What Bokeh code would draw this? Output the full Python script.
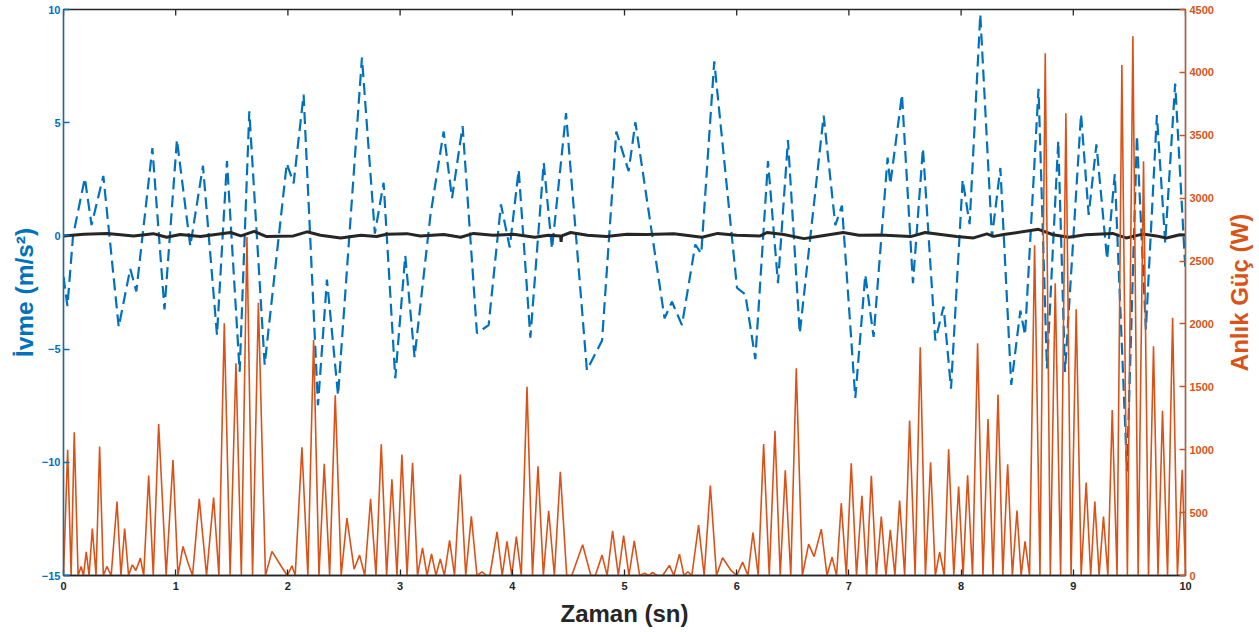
from bokeh.plotting import figure
from bokeh.layouts import row
from bokeh.models import Range1d, LinearAxis, FixedTicker
from bokeh.embed import file_html
from bokeh.resources import INLINE

# ---- data ----
x_ticks = [0, 1, 2, 3, 4, 5, 6, 7, 8, 9, 10]
acc_ticks = [-15, -10, -5, 0, 5, 10]
pow_ticks = [0, 500, 1000, 1500, 2000, 2500, 3000, 3500, 4000, 4500]

# acceleration (dashed blue), m/s^2
t_acc = [0.000, 0.035, 0.085, 0.190, 0.250, 0.355, 0.492, 0.595, 0.649, 0.792,
         0.900, 1.011, 1.130, 1.243, 1.368, 1.457, 1.570, 1.656, 1.793, 1.990,
         2.051, 2.140, 2.268, 2.348, 2.447, 2.660, 2.775, 2.853, 2.957, 3.046,
         3.129, 3.270, 3.388, 3.463, 3.557, 3.685, 3.789, 3.899, 3.977, 4.057,
         4.161, 4.280, 4.354, 4.479, 4.665, 4.800, 4.927, 5.037, 5.097, 5.357,
         5.423, 5.512, 5.631, 5.684, 5.800, 6.003, 6.077, 6.166, 6.279, 6.368,
         6.457, 6.562, 6.775, 6.879, 6.938, 7.057, 7.146, 7.220, 7.345, 7.369,
         7.473, 7.571, 7.660, 7.770, 7.844, 7.910, 8.014, 8.076, 8.171, 8.275,
         8.350, 8.447, 8.528, 8.570, 8.690, 8.765, 8.866, 8.926, 9.069, 9.137,
         9.206, 9.301, 9.370, 9.479, 9.567, 9.647, 9.745, 9.819, 9.908, 10.000]
acc = [-1.8, -3.1, 0.0, 2.55, 0.48, 2.65, -4.02, -1.45, -2.45, 3.88,
       -3.25, 4.25, -0.45, 3.1, -4.38, 3.3, -6.0, 5.5, -5.69, 3.2,
       2.32, 6.24, -7.48, -1.93, -7.04, 7.88, 0.1, 2.35, -6.29, -0.87,
       -5.36, 0.9, 4.61, 1.67, 4.85, -4.3, -3.94, 1.39, -0.51, 2.92,
       -4.49, 3.22, -0.57, 5.42, -5.93, -4.62, 4.61, 2.86, 5.02, -3.64,
       -2.91, -3.94, -0.38, -0.78, 7.71, -2.3, -2.58, -5.44, 3.3, -2.09,
       4.23, -4.3, 5.31, 0.47, 1.34, -7.16, -1.72, -4.46, 3.46, 2.29,
       6.24, -2.09, 3.87, -4.62, -3.12, -6.75, 2.48, 0.52, 9.8, -0.06,
       3.0, -6.58, -3.3, -4.38, 6.5, -5.85, 4.2, -6.01, 5.38, 0.93,
       4.04, -1.03, 2.73, -10.4, 4.44, -4.13, 5.34, -0.29, 6.73, -1.6]

# reference (solid black), m/s^2
t_ref = [0.00, 0.18, 0.39, 0.625, 0.80, 0.92, 1.04, 1.22, 1.49, 1.58, 1.70, 1.81,
         2.05, 2.17, 2.29, 2.47, 2.65, 2.79, 2.88, 3.06, 3.18, 3.39, 3.54, 3.655,
         3.83, 4.01, 4.20, 4.32, 4.43, 4.435, 4.44, 4.52, 4.67, 4.84, 5.02, 5.20,
         5.44, 5.69, 5.83, 6.00, 6.21, 6.27, 6.42, 6.60, 6.75, 6.95, 7.09, 7.28,
         7.55, 7.68, 7.96, 8.11, 8.23, 8.29, 8.38, 8.69, 8.82, 8.96, 9.11, 9.35,
         9.47, 9.62, 9.74, 9.83, 9.95, 10.00]
ref = [0.0, 0.07, 0.11, 0.0, 0.10, -0.06, 0.06, -0.03, 0.15, 0.0, 0.20, -0.03,
       0.0, 0.18, 0.03, -0.09, 0.03, -0.03, 0.07, 0.10, 0.0, 0.06, -0.06, 0.11,
       0.03, 0.07, -0.06, 0.03, 0.0, -0.26, 0.0, 0.15, 0.03, -0.03, 0.07, 0.06,
       0.09, -0.06, 0.11, 0.03, 0.0, 0.15, 0.06, -0.12, 0.0, 0.15, 0.03, 0.04,
       -0.03, 0.15, -0.03, -0.09, 0.09, -0.02, 0.06, 0.29, 0.05, -0.06, 0.05, 0.11,
       -0.09, 0.08, 0.0, -0.09, 0.05, 0.04]

# instantaneous power (solid orange), W
t_pow = [0.000, 0.037, 0.068, 0.096, 0.130, 0.157, 0.178, 0.203, 0.228, 0.257,
         0.290, 0.322, 0.355, 0.387, 0.425, 0.477, 0.512, 0.545, 0.580, 0.613,
         0.645, 0.685, 0.715, 0.759, 0.800, 0.848, 0.915, 0.976, 1.020, 1.065,
         1.110, 1.150, 1.210, 1.275, 1.338, 1.385, 1.433, 1.485, 1.537, 1.585,
         1.635, 1.685, 1.737, 1.800, 1.858, 1.950, 1.995, 2.036, 2.065, 2.125,
         2.178, 2.229, 2.277, 2.324, 2.372, 2.422, 2.475, 2.526, 2.590, 2.639,
         2.685, 2.737, 2.785, 2.832, 2.880, 2.927, 2.972, 3.016, 3.062, 3.111,
         3.155, 3.200, 3.240, 3.280, 3.320, 3.358, 3.395, 3.441, 3.485, 3.537,
         3.585, 3.635, 3.685, 3.730, 3.770, 3.800, 3.864, 3.910, 3.953, 3.995,
         4.036, 4.080, 4.131, 4.180, 4.229, 4.277, 4.324, 4.375, 4.428, 4.485,
         4.530, 4.627, 4.700, 4.740, 4.800, 4.845, 4.894, 4.945, 4.992, 5.040,
         5.087, 5.135, 5.180, 5.215, 5.250, 5.290, 5.340, 5.400, 5.440, 5.490,
         5.530, 5.565, 5.600, 5.660, 5.710, 5.765, 5.820, 5.874, 5.950, 6.000,
         6.053, 6.100, 6.145, 6.192, 6.240, 6.290, 6.341, 6.388, 6.433, 6.482,
         6.531, 6.585, 6.641, 6.690, 6.754, 6.805, 6.850, 6.890, 6.932, 6.977,
         7.021, 7.068, 7.116, 7.158, 7.200, 7.245, 7.289, 7.330, 7.369, 7.410,
         7.452, 7.497, 7.541, 7.590, 7.636, 7.682, 7.728, 7.770, 7.809, 7.850,
         7.889, 7.935, 7.978, 8.018, 8.058, 8.102, 8.147, 8.195, 8.240, 8.285,
         8.329, 8.372, 8.415, 8.457, 8.498, 8.535, 8.570, 8.610, 8.655, 8.703,
         8.750, 8.795, 8.839, 8.887, 8.934, 8.980, 9.026, 9.070, 9.115, 9.155,
         9.192, 9.230, 9.269, 9.308, 9.347, 9.390, 9.433, 9.482, 9.531, 9.578,
         9.626, 9.670, 9.715, 9.755, 9.795, 9.840, 9.885, 9.928, 9.971, 10.000]
pow_w = [0, 1000, 0, 1138, 0, 72, 0, 188, 0, 374,
         0, 1025, 0, 72, 0, 588, 0, 374, 0, 85,
         40, 138, 0, 795, 0, 1205, 0, 919, 0, 231,
         100, 0, 609, 0, 620, 0, 2005, 0, 1688, 0,
         2691, 0, 2168, 0, 192, 60, 0, 77, 0, 1020,
         0, 1873, 0, 888, 0, 1432, 0, 456, 50, 162,
         0, 609, 0, 1044, 0, 765, 0, 962, 0, 897,
         0, 220, 0, 171, 0, 132, 0, 279, 0, 803,
         0, 471, 0, 29, 0, 0, 347, 0, 271, 0,
         309, 0, 1500, 0, 868, 0, 515, 0, 824, 0,
         0, 244, 0, 0, 162, 0, 355, 0, 318, 0,
         276, 0, 19, 0, 25, 0, 0, 80, 0, 170,
         0, 30, 0, 400, 0, 715, 0, 141, 40, 0,
         106, 0, 342, 0, 1046, 0, 1150, 0, 837, 0,
         1648, 0, 250, 150, 368, 0, 146, 0, 575, 0,
         893, 0, 633, 0, 792, 0, 469, 0, 363, 0,
         596, 0, 1232, 0, 1814, 0, 901, 0, 186, 0,
         1004, 0, 707, 0, 797, 0, 1846, 0, 1245, 0,
         1438, 0, 885, 0, 517, 0, 271, 0, 2626, 0,
         4153, 0, 2323, 0, 3676, 0, 2117, 0, 739, 0,
         588, 0, 469, 0, 1316, 0, 4059, 0, 4288, 0,
         3294, 0, 1823, 0, 1309, 0, 2050, 0, 840, 0]

BLUE = "#0072BD"
ORANGE = "#D95319"
DARK = "#262626"
FONT = "Liberation Sans"
FW, FH = 1122, 566
TOP = 9
RIGHT = 33
SIDE_W = 1259 - (63 + FW + RIGHT)

p = figure(frame_width=FW, frame_height=FH, output_backend="svg",
           toolbar_location=None,
           x_range=Range1d(0, 10), y_range=Range1d(-15, 10),
           min_border_left=63, min_border_right=RIGHT, min_border_top=TOP,
           min_border_bottom=40)
p.extra_y_ranges = {"pw": Range1d(0, 4500)}
p.xgrid.visible = False
p.ygrid.visible = False
p.outline_line_color = DARK
p.outline_line_width = 1.3
p.background_fill_color = "white"
p.border_fill_color = "white"


def style(ax, color, label):
    ax.axis_line_color = color
    ax.axis_line_width = 1.3
    ax.major_tick_line_color = color
    ax.major_tick_line_width = 1.3
    ax.minor_tick_line_color = None
    ax.major_tick_in = 6
    ax.major_tick_out = 0
    ax.major_label_text_color = color
    ax.major_label_text_font = FONT
    ax.major_label_text_font_style = "bold"
    ax.major_label_text_font_size = "11px"
    ax.axis_label = label
    ax.axis_label_text_font = FONT
    ax.axis_label_text_font_style = "bold"
    ax.axis_label_text_font_size = "24.5px"
    ax.axis_label_text_color = color


xa = p.xaxis[0]
style(xa, DARK, "Zaman (sn)")
xa.ticker = FixedTicker(ticks=x_ticks)
xa.axis_label_text_font_size = "24px"
xa.major_label_standoff = 6
xa.axis_label_standoff = 7

ya = p.yaxis[0]
style(ya, BLUE, "İvme (m/s²)")
ya.ticker = FixedTicker(ticks=acc_ticks)
ya.major_label_standoff = 3
ya.axis_label_standoff = 1

ra = LinearAxis(y_range_name="pw")
style(ra, ORANGE, None)
ra.ticker = FixedTicker(ticks=pow_ticks)
ra.major_label_standoff = 4
p.add_layout(ra, "right")

# top box ticks (MATLAB style, pointing inward)
tick_len = 25.0 / FH * 6
p.segment(x0=x_ticks, y0=[10] * len(x_ticks), x1=x_ticks,
          y1=[10 - tick_len] * len(x_ticks), line_color=DARK, line_width=1.3)

p.line(t_acc, acc, line_color=BLUE, line_width=2.2, line_dash="12 6")
p.line(t_ref, ref, line_color=DARK, line_width=3)
p.line(t_pow, pow_w, line_color=ORANGE, line_width=1.6, y_range_name="pw")

# narrow side panel whose (invisible) left axis carries the right-axis title,
# so that it reads bottom-to-top as in the reference; same frame height as p
side = figure(width=SIDE_W, frame_height=FH, output_backend="svg",
              toolbar_location=None, x_axis_location=None,
              y_axis_location="left",
              x_range=Range1d(0, 1), y_range=Range1d(0, 4500),
              min_border_left=SIDE_W - 4, min_border_right=0,
              min_border_top=TOP, min_border_bottom=40)
side.outline_line_color = None
side.xgrid.visible = False
side.ygrid.visible = False
side.background_fill_color = "white"
side.border_fill_color = "white"
sa = side.yaxis[0]
sa.ticker = FixedTicker(ticks=[])
sa.axis_line_color = None
sa.major_tick_line_color = None
sa.minor_tick_line_color = None
sa.major_tick_in = 0
sa.major_tick_out = 0
sa.major_label_standoff = 0
sa.axis_label = "Anlık Güç (W)"
sa.axis_label_text_font = FONT
sa.axis_label_text_font_style = "bold"
sa.axis_label_text_font_size = "24px"
sa.axis_label_text_color = ORANGE
sa.axis_label_standoff = 3

layout = row(p, side, spacing=0)
open("out.html", "w").write(file_html(layout, INLINE))
